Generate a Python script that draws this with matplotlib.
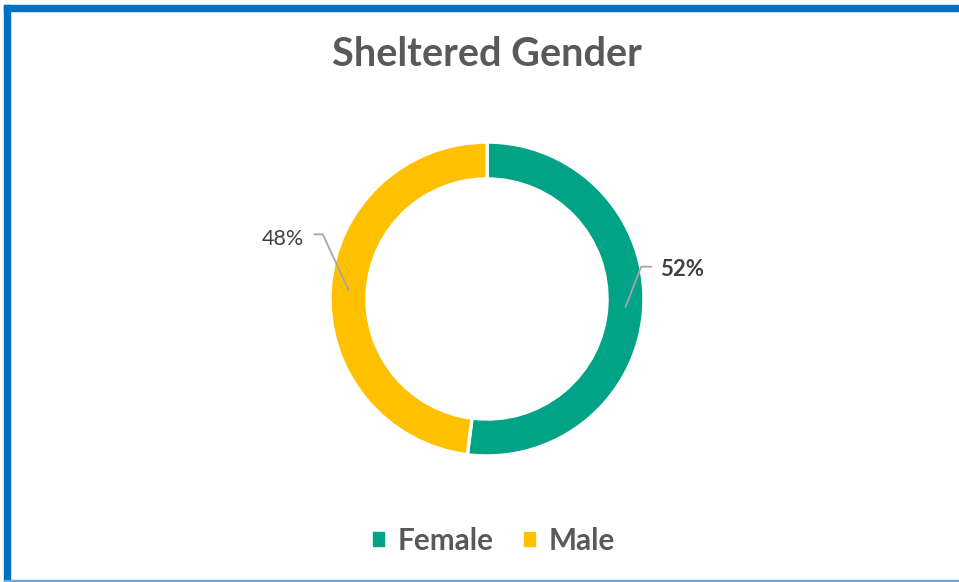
import numpy as np
import matplotlib
matplotlib.use("Agg")
import matplotlib.pyplot as plt
from matplotlib.patches import Rectangle

categories = ["Female", "Male"]
values = [52, 48]
labels = ["52%", "48%"]
colors = ["#00A386", "#FFC000"]
title = "Sheltered Gender"

W, H = 959, 582
fig = plt.figure(figsize=(W / 100, H / 100), dpi=100)
fig.patch.set_facecolor("white")
plt.rcParams["font.family"] = ["Lato", "DejaVu Sans"]

ax = fig.add_axes([0, 0, 1, 1])
cx, cy = 487, H - 299
R = 157
width = 37
wedges, _ = ax.pie(values, colors=colors, startangle=90, counterclock=False,
                   radius=R, center=(cx, cy), frame=True,
                   wedgeprops=dict(width=width, edgecolor="white", linewidth=2.5))
ax.set_xlim(0, W)
ax.set_ylim(0, H)
ax.set_aspect("auto")
ax.axis("off")

# labels with leader lines
rmid = R - width / 2
lead = "#A6A6A6"
for i, w in enumerate(wedges):
    ang = np.deg2rad((w.theta1 + w.theta2) / 2)
    ax0 = cx + rmid * np.cos(ang)
    ay0 = cy + rmid * np.sin(ang)
    if np.cos(ang) > 0:
        kx, ky = ax0 + 16, ay0 + 41
        ex = kx + 11
        ax.plot([ax0, kx, ex], [ay0, ky, ky], color=lead, lw=1.3, solid_capstyle="butt")
        ax.text(ex + 8, ky - 3, labels[i], ha="left", va="center", fontsize=16,
                fontweight="bold", color="#404040")
    else:
        kx, ky = ax0 - 26, ay0 + 56
        ex = kx - 9
        ax.plot([ax0, kx, ex], [ay0, ky, ky], color=lead, lw=1.3, solid_capstyle="butt")
        ax.text(ex - 10, ky - 5, labels[i], ha="right", va="center", fontsize=15.5,
                color="#404040")

fig.text(486.5 / W, 1 - 55 / H, title, ha="center", va="center", fontsize=28.5,
         fontweight="bold", color="#595959")

# legend
leg = fig.legend(handles=[Rectangle((0, 0), 1, 1, color=c) for c in colors],
                 labels=categories, loc="center", bbox_to_anchor=(494 / W, 1 - 541 / H),
                 ncol=2, frameon=False, handlelength=0.36, handleheight=0.36,
                 handletextpad=0.45, columnspacing=1.05,
                 prop=dict(size=21.4, weight="bold"))
for t in leg.get_texts():
    t.set_color("#595959")

# border
bc = "#0070C0"
fig.patches.append(Rectangle((4 / W, 0), 6 / W, 1 - 5 / H, transform=fig.transFigure,
                             color=bc, zorder=10))
fig.patches.append(Rectangle((4 / W, 1 - 11 / H), 1, 6 / H, transform=fig.transFigure,
                             color=bc, zorder=10))
fig.patches.append(Rectangle((4 / W, 0.5 / H), 1, 1.5 / H, transform=fig.transFigure,
                             color="#6FA8DC", zorder=10))

fig.savefig("out.png", dpi=100, facecolor="white")
